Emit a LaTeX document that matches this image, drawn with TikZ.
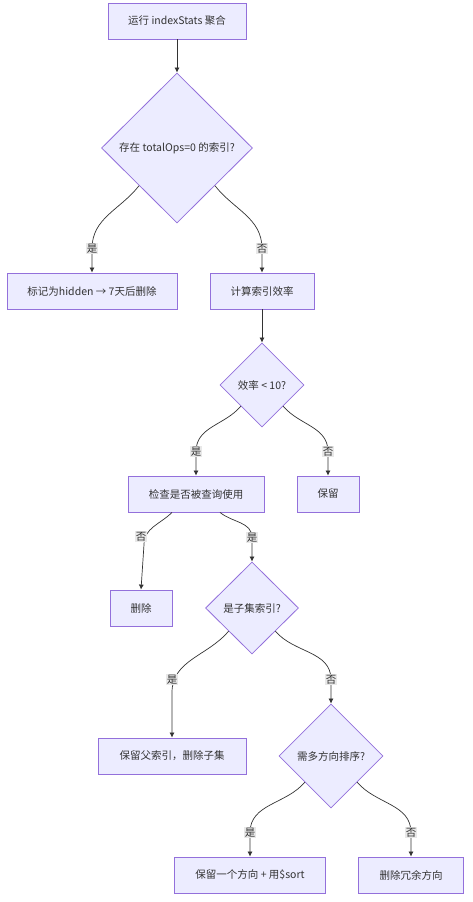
\documentclass[tikz,border=0pt]{standalone}
\usepackage{fontspec}
\setmainfont{Noto Sans CJK SC}
\usetikzlibrary{shapes.geometric,arrows.meta}
\definecolor{nodefill}{HTML}{ECECFF}
\definecolor{nodeline}{HTML}{9370DB}
\definecolor{edgecol}{HTML}{333333}
\definecolor{lblfill}{HTML}{E8E8E8}
\begin{document}
\begin{tikzpicture}[x=1pt,y=-1pt,>={Latex[length=5pt,width=5pt]},
  every node/.style={font=\fontsize{10.5}{12}\selectfont,text=edgecol},
  proc/.style={rectangle,draw=nodeline,fill=nodefill,line width=0.8pt,minimum height=36pt,inner sep=0pt},
  test/.style={diamond,aspect=1,draw=nodeline,fill=nodefill,line width=0.8pt,inner sep=0pt},
  flow/.style={->,draw=edgecol,line width=0.7pt},
  lbl/.style={fill=lblfill,inner sep=1pt}]
  \useasboundingbox (0,0) rectangle (473,902);
%%
  % Node: Run
  \node[proc,minimum width=138pt] (run) at (177,21) {运行 indexStats 聚合};
  % Node: HasZero
  \node[test,minimum width=151pt,minimum height=150pt] (zero) at (177,148) {存在 totalOps=0 的索引?};
  % Node: Hide
  \node[proc,minimum width=170pt] (hide) at (92,291) {标记为hidden → 7天后删除};
  % Node: Calc
  \node[proc,minimum width=104pt] (calc) at (262,291) {计算索引效率};
  % Node: LowEff
  \node[test,minimum width=84pt,minimum height=84pt] (eff) at (262,385) {效率 < 10?};
  % Node: Check
  \node[proc,minimum width=136pt] (check) at (196,494) {检查是否被查询使用};
  % Node: Keep
  \node[proc,minimum width=62pt] (keep) at (328,494) {保留};
  % Node: Drop
  \node[proc,minimum width=62pt] (drop) at (141,608) {删除};
  % Node: Subset
  \node[test,minimum width=93pt,minimum height=92pt] (sub) at (252,608) {是子集索引?};
  % Node: KeepParent
  \node[proc,minimum width=148pt] (parent) at (172,756) {保留父索引，删除子集};
  % Node: MultiDir
  \node[test,minimum width=104pt,minimum height=104pt] (dir) at (331,756) {需多方向排序?};
  % Node: OneDir
  \node[proc,minimum width=151pt] (one) at (250,875) {保留一个方向 + 用\$sort};
  % Node: DropDir
  \node[proc,minimum width=105pt] (extra) at (411,875) {删除冗余方向};
%%
  % Edge: Run -> HasZero
  \draw[flow] (run.south) -- (zero.north);
  % Edge: HasZero -> Hide
  \draw[flow] (zero.south west) to[out=-128,in=90] ([yshift=24pt]hide.north) node[lbl] {是} -- (hide.north);
  % Edge: HasZero -> Calc
  \draw[flow] (zero.south east) to[out=-52,in=90] ([yshift=24pt]calc.north) node[lbl] {否} -- (calc.north);
  % Edge: Calc -> LowEff
  \draw[flow] (calc.south) -- (eff.north);
  % Edge: LowEff -> Check
  \draw[flow] (eff.south west) to[out=-130,in=90] ([yshift=24pt]check.north) node[lbl] {是} -- (check.north);
  % Edge: LowEff -> Keep
  \draw[flow] (eff.south east) to[out=-50,in=90] ([yshift=24pt]keep.north) node[lbl] {否} -- (keep.north);
  % Edge: Check -> Drop
  \draw[flow] ([xshift=-24pt]check.south) to[out=-135,in=90] ([xshift=3pt,yshift=45pt]drop.north) -- (drop.north);
  \node[lbl] at ([yshift=53pt]drop.north) {否};
  % Edge: Check -> Subset
  \draw[flow] ([xshift=24pt]check.south) to[out=-40,in=90] ([yshift=24pt]sub.north) node[lbl] {是} -- (sub.north);
  % Edge: Subset -> KeepParent
  \draw[flow] (sub.south west) to[out=-130,in=90] ([yshift=45pt]parent.north) -- (parent.north);
  \node[lbl] at ([yshift=58pt]parent.north) {是};
  % Edge: Subset -> MultiDir
  \draw[flow] (sub.south east) to[out=-50,in=90] ([yshift=24pt]dir.north) node[lbl] {否} -- (dir.north);
  % Edge: MultiDir -> OneDir
  \draw[flow] (dir.south west) to[out=-130,in=90] ([yshift=24pt]one.north) node[lbl] {是} -- (one.north);
  % Edge: MultiDir -> DropDir
  \draw[flow] (dir.south east) to[out=-50,in=90] ([yshift=24pt]extra.north) node[lbl] {否} -- (extra.north);
%
\end{tikzpicture}
\end{document}
